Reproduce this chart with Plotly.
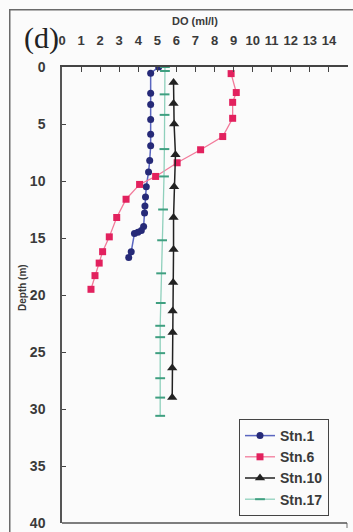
import plotly.graph_objects as go

# ---- data ----
stn1_depth = [0, 0.55, 2.3, 3.3, 4.6, 5.9, 6.9, 8.2, 9.2, 10.5, 11.4, 12.2, 12.8, 14.0, 14.35, 14.5, 14.6, 16.2, 16.7]
stn1_do = [5.07, 4.65, 4.65, 4.65, 4.65, 4.65, 4.65, 4.6, 4.54, 4.42, 4.38, 4.35, 4.33, 4.28, 4.16, 3.98, 3.8, 3.63, 3.5]

stn6_depth = [0.58, 2.24, 3.1, 4.5, 6.1, 7.26, 8.4, 9.6, 10.3, 11.6, 13.2, 14.9, 16.2, 17.2, 18.3, 19.5]
stn6_do = [8.87, 9.14, 8.95, 8.95, 8.43, 7.27, 6.04, 4.91, 4.07, 3.36, 2.87, 2.48, 2.13, 1.95, 1.73, 1.52]

stn10_depth = [1.37, 3.2, 5.0, 7.7, 10.5, 13.2, 16.0, 18.9, 21.4, 23.3, 26.4, 29.0]
stn10_do = [5.85, 5.85, 5.88, 5.95, 5.88, 5.85, 5.85, 5.83, 5.8, 5.8, 5.78, 5.78]

stn17_depth = [0, 0.35, 2.4, 4.2, 7.2, 9.6, 12.5, 15.2, 18.1, 20.7, 22.7, 23.7, 25.1, 27.3, 29.0, 30.6]
stn17_do = [5.4, 5.4, 5.38, 5.38, 5.37, 5.35, 5.3, 5.25, 5.2, 5.18, 5.15, 5.15, 5.15, 5.15, 5.15, 5.15]

x_ticks = list(range(0, 16))
y_ticks = list(range(0, 41, 5))
series_names = ["Stn.1", "Stn.6", "Stn.10", "Stn.17"]

FONT = "Liberation Sans, Arial, sans-serif"
TXT = "#3a3a3a"

L, R, T, B = 62, 348, 67, 523
PW, PH = R - L, B - T


def px(x):
    return (x - L) / PW


def py(y):
    return (B - y) / PH


fig = go.Figure()
fig.add_trace(go.Scatter(x=stn1_do, y=stn1_depth, name=series_names[0], mode="lines+markers",
                         line=dict(color="#5a66c0", width=1.5),
                         marker=dict(symbol="circle", size=7, color="#262a78")))
fig.add_trace(go.Scatter(x=stn6_do, y=stn6_depth, name=series_names[1], mode="lines+markers",
                         line=dict(color="#f27a9a", width=1.3),
                         marker=dict(symbol="square", size=7, color="#e2215e")))
fig.add_trace(go.Scatter(x=stn10_do, y=stn10_depth, name=series_names[2], mode="lines+markers",
                         line=dict(color="#222222", width=1.5),
                         marker=dict(symbol="triangle-up", size=9, color="#222222")))
fig.add_trace(go.Scatter(x=stn17_do, y=stn17_depth, name=series_names[3], mode="lines+markers",
                         line=dict(color="#8fd0bc", width=1.3),
                         marker=dict(symbol="line-ew", size=7, line=dict(color="#3f9f80", width=2))))

fig.update_layout(
    width=353, height=532,
    margin=dict(l=L, r=353 - R, t=T, b=532 - B, autoexpand=False),
    paper_bgcolor="#fbfbfb", plot_bgcolor="#fbfbfb",
    font=dict(family=FONT, color=TXT, size=12),
    showlegend=True,
    legend=dict(x=px(239), y=py(516), xanchor="left", yanchor="bottom",
                bgcolor="#fbfbfb", bordercolor="#444444", borderwidth=1,
                font=dict(family=FONT, size=14, color=TXT, weight="bold"),
                tracegroupgap=0, itemwidth=30),
    xaxis=dict(side="top", range=[0, 15], tickvals=x_ticks, ticktext=[str(v) for v in x_ticks],
               ticks="inside", ticklen=5, tickcolor="#444", showgrid=False, zeroline=False,
               showline=True, linecolor="#444", linewidth=1.5, mirror=False, automargin=False,
               tickfont=dict(family=FONT, size=13, color=TXT, weight="bold"),
               ticklabelstandoff=15),
    yaxis=dict(range=[40, 0], tickvals=y_ticks, ticktext=[str(v) for v in y_ticks],
               ticks="inside", ticklen=4, tickcolor="#444", showgrid=False, zeroline=False,
               showline=True, linecolor="#555", linewidth=1.5, automargin=False,
               tickfont=dict(family=FONT, size=14, color=TXT, weight="bold"),
               ticklabelstandoff=12),
    annotations=[
        dict(text=" ", xref="paper", yref="paper", x=px(9), y=py(9),
             xanchor="left", yanchor="top", width=360, height=540, borderpad=0,
             bordercolor="#6a6a6a", borderwidth=1.5, showarrow=False),
        dict(text="DO (ml/l)", xref="paper", yref="paper", x=px(195), y=py(21),
             xanchor="center", yanchor="middle",
             showarrow=False, font=dict(family=FONT, size=11, color=TXT, weight="bold")),
        dict(text="Depth (m)", xref="paper", yref="paper", x=px(22), y=py(288),
             xanchor="center", yanchor="middle",
             textangle=-90, showarrow=False, font=dict(family=FONT, size=10, color=TXT, weight="bold")),
        dict(text="(d)", xref="paper", yref="paper", x=px(41), y=py(38),
             xanchor="center", yanchor="middle",
             showarrow=False, font=dict(family="Liberation Serif, Times New Roman, serif", size=30, color="#222")),
    ],
    shapes=[
        dict(type="line", xref="paper", yref="paper", layer="above", x0=px(347), x1=px(347),
             y0=py(B), y1=py(528), line=dict(color="#888", width=1.2)),
        dict(type="line", xref="paper", yref="paper", layer="above", x0=0, x1=px(347),
             y0=0, y1=0, line=dict(color="#555", width=1.5)),
    ],
)

fig.write_html("out.html", config={"displayModeBar": False},
               post_script="document.body.style.margin='0';document.body.style.overflow='hidden';")
